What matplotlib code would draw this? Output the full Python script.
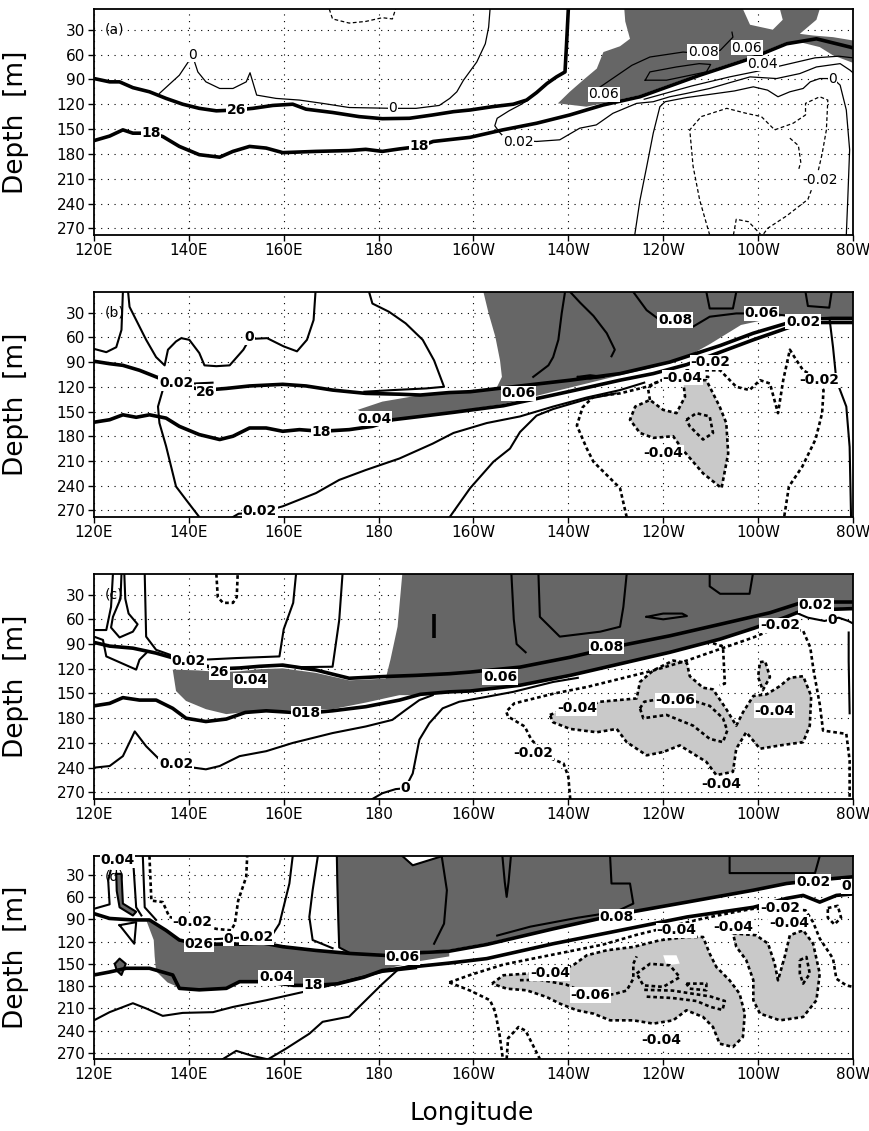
import matplotlib
matplotlib.use("Agg")
import matplotlib.pyplot as plt
from matplotlib.patches import Polygon

# all traced points are (longitude in deg E, depth in m)

# ---------------- panel (a) ----------------
a_iso26 = [(120, 89), (123.3, 93), (125.4, 93), (128.2, 100), (131.7, 105), (135.2, 113), (138.7, 120),
           (142.2, 125), (145.8, 128), (150, 127), (153.5, 125), (157.7, 121.5), (161.9, 120), (164.7, 126),
           (170.3, 130), (175.9, 135), (180.8, 137.5), (186.5, 137), (191.4, 133), (195.8, 129), (199.3, 127),
           (204, 123), (208.4, 120), (211.2, 115), (213.3, 106), (215.5, 95), (217.5, 87), (219.3, 81),
           (219.6, 50), (220, 5)]
a_iso18 = [(120, 164), (123.3, 158.5), (126.1, 151), (128.2, 155), (132, 155), (134.5, 159), (138, 171),
           (142.2, 181), (146.5, 184), (149.3, 177), (152.8, 171), (156.3, 173), (159.8, 178.5), (166.8, 177),
           (173.8, 176), (177.3, 174.5), (180.8, 177), (184.4, 174), (188.7, 171), (191.5, 165), (199.3, 160),
           (206.2, 151), (213.3, 143), (220.3, 133), (227.3, 121), (235.1, 111), (247.7, 85), (258.3, 65),
           (266, 47), (272.3, 41), (279.4, 51), (280, 52)]
a_zero = [(133.8, 107), (138, 85), (140.1, 67), (140.7, 60), (141.9, 81), (143.6, 93), (146.5, 101),
          (149.3, 101), (152.1, 93), (152.9, 82), (154.3, 109), (158.4, 113), (163.3, 115), (168.2, 119),
          (173.8, 124), (183, 125), (187.9, 125), (192.8, 121.5), (195, 113), (196.5, 105), (197.9, 91),
          (200.7, 69), (202.5, 47), (203.2, 27), (203.5, 5)]
a_neg_top = [(169.6, 5), (170.3, 17), (173.8, 22), (177.3, 20), (180.8, 15.5), (182.9, 17), (183.6, 5)]
a_p02 = [(211.5, 115), (209.8, 121), (207.5, 128), (205, 137), (204.5, 146), (205.5, 154), (207, 163),
         (213.3, 165), (218.2, 163), (222.4, 149), (225.9, 145), (229.4, 131), (234.4, 119), (237.9, 117),
         (241.4, 111), (244.9, 107), (249.8, 101), (254, 94), (258.3, 87), (263.9, 89), (268.8, 83),
         (272.3, 75), (277.3, 71), (279.4, 79), (280, 82)]
a_p04 = [(236, 114), (246, 98), (254, 87), (260, 80), (266, 72), (272, 64), (277, 62), (280, 64)]
a_zero_e = [(234, 278), (235.1, 236), (236.5, 196), (237.9, 155), (239.3, 123), (240.4, 117), (244.9, 112),
            (250, 108), (255, 104), (259, 99), (262, 103), (264.2, 111), (266.7, 105), (269.5, 101), (271, 93),
            (273, 89), (275.8, 89), (277.3, 97), (278.6, 127), (279.3, 175), (278.9, 236), (278.6, 278)]
a_m02 = [(249.8, 278), (247.7, 236), (246.3, 195), (245.6, 151), (248, 135), (253.4, 125), (257.5, 131),
         (260.7, 135), (263.5, 151), (267.4, 143), (270, 133), (270, 119), (273, 111), (274.7, 115),
         (274.4, 151), (273.5, 180), (272.5, 205), (271.8, 215), (270.5, 235), (266, 255), (262, 270), (261, 278)]
a_m02_b = [(254.8, 278), (255.4, 259), (258, 262), (260.5, 277)]
a_m02_c = [(266.7, 161), (268.5, 170), (269, 190), (268.5, 200)]
a_p08 = [(226.5, 100), (228.8, 91), (233.4, 73), (237.2, 63), (244.2, 57), (248.4, 59), (252, 55),
         (254.7, 39), (254.5, 33)]
a_p10 = [(236.2, 91), (237.2, 81), (242.8, 75), (247.6, 71), (250, 72), (249.1, 81), (240.7, 91), (236.2, 91)]
a_dark = [(217.8, 119), (220.3, 105), (223.1, 91), (226, 77), (227.4, 57), (230.9, 50), (233, 41), (232, 20),
          (231.8, 5), (256.8, 5), (258.3, 24), (263.1, 30), (265.2, 18), (264.6, 5), (273, 5), (272.3, 18),
          (268.8, 35), (271.6, 37), (275.8, 39), (280, 43), (280, 70), (275.8, 61), (273, 51), (269.5, 46),
          (266, 45), (258.3, 63), (247.7, 83), (235.1, 109), (228.8, 117), (223.8, 123)]
a_labels = [("0", 140.7, 60, False), ("26", 150, 127, True), ("18", 132, 155, True), ("18", 188.5, 171, True),
            ("0", 183, 125, False), ("0.06", 227.5, 108, False), ("0.08", 248.4, 57, False),
            ("0.06", 257.6, 52, False), ("0.04", 261, 71, False), ("0.02", 209.4, 166, False),
            ("0", 275.7, 89, False), ("-0.02", 273, 211.5, False)]

# ---------------- panel (b) ----------------
b_iso26 = [(120, 89), (123.3, 92), (126.1, 94), (129.6, 100), (133.1, 108), (136.6, 116), (139.4, 120),
           (143.6, 124), (147.9, 122), (152.8, 119), (159.8, 117), (164.7, 119), (170.3, 124), (177.3, 128),
           (184.4, 129), (188.8, 130), (194.9, 127), (199.3, 126), (209.8, 119), (220.4, 112), (230.9, 104),
           (241.4, 90), (252, 70), (259, 55), (266, 43), (269.5, 37), (280, 37)]
b_iso18 = [(120, 163), (123.3, 160), (126.1, 154), (128.9, 157), (131.7, 154), (135.2, 158), (138, 168),
           (142.2, 178), (146.5, 184), (149.3, 180), (152.8, 170), (156.3, 170), (159.8, 174), (163.3, 172),
           (167.9, 174), (173.8, 172), (178.7, 168), (183, 160), (188.8, 156), (195.8, 151), (206.3, 143),
           (216.8, 130), (223.9, 121), (230.9, 112), (237.9, 104), (245, 93), (252, 78), (259, 63), (266, 49),
           (269.5, 42), (280, 42)]
b_dark = [(202.1, 5), (280, 5), (280, 37), (274.6, 35), (266, 33), (256.4, 45), (249.9, 68), (244.3, 86),
          (237, 98), (230.9, 106), (223.9, 116), (216.8, 126), (206.3, 141), (195.8, 150), (188.8, 155),
          (183, 159), (178.7, 157), (175.6, 148), (180.8, 138), (187.9, 131), (194.9, 127), (199.5, 125),
          (204.9, 121), (206, 108), (205.6, 88), (204.6, 59), (203.2, 31)]
b_zero_top = [(127.2, 5), (127.5, 23), (128.9, 39), (131, 63), (133.1, 84), (134.9, 94), (135.6, 75),
              (137.3, 65), (138.4, 61), (140.1, 63), (142.2, 79), (143.3, 94), (145.8, 95), (148.6, 94),
              (151.5, 75), (152.8, 62), (156.5, 61), (160, 71), (162.8, 77), (164.9, 63), (166.3, 39), (166.7, 5)]
b_left = [(120, 74), (122.6, 78), (124.7, 72), (125.8, 51), (126.1, 5)]
b_mid = [(178, 5), (178.7, 19), (182.2, 29), (185.7, 43), (189.3, 63), (191.7, 88), (193.8, 120), (190, 122),
         (183, 124), (177, 126)]
b_p02 = [(145, 115), (137.5, 117), (134.5, 124), (133.5, 144), (133.8, 164), (135.2, 192), (137.3, 241),
         (139.4, 257), (142.2, 278)]
b_p02_bot = [(149.3, 278), (150.5, 274), (154.9, 273), (159.8, 265), (166.8, 249), (171.7, 233), (177.3, 221),
             (184.4, 207), (191.4, 189), (195.8, 176), (202.8, 164), (209.8, 156), (216.8, 144), (223.9, 133),
             (230.9, 124), (236, 115)]
b_zero_e = [(195, 278), (199.3, 243), (204.2, 211), (207.7, 195), (209.8, 175), (213.3, 155), (216.8, 147),
            (223.9, 135), (230, 128)]
b_m02 = [(232.3, 278), (230.9, 243), (228.1, 227), (225.3, 211), (223.9, 195), (221.8, 167), (223, 145),
         (225.3, 132), (230.9, 128), (236.5, 120), (241.4, 108), (245, 100), (252, 100), (255.4, 120),
         (258.2, 124), (260.4, 112), (262.5, 116), (264.2, 152), (265.3, 112), (266.7, 75), (268, 87),
         (269.5, 100), (272, 108), (273.8, 124), (273.5, 152), (272.1, 184), (269.3, 217), (266.5, 241),
         (265.5, 278)]
b_light = [(244.2, 112), (249.1, 112), (251.9, 144), (253.3, 164), (253.7, 201), (252.3, 243), (248.4, 225),
           (244.2, 197), (242.1, 180), (237.9, 182), (235.1, 176), (233, 160), (234.1, 144), (237.2, 136),
           (240, 148), (242.8, 152), (244.6, 132)]
b_m04 = [(237.2, 136), (236.8, 122), (238, 116), (241, 109), (245.6, 106), (249.5, 108), (249.1, 112)]
b_m06 = [(244.9, 160), (247, 152), (249.8, 156), (250.5, 176), (248.4, 184), (245.6, 168), (244.9, 160)]
b_edge = [(275.1, 39), (275.8, 72), (276.5, 112), (278.6, 144), (279.3, 193), (279.6, 278)]
b_in1 = [(219.3, 5), (218.6, 31), (217.9, 63), (216.8, 84), (215.8, 94), (212.6, 108)]
b_in2 = [(220.4, 5), (222.5, 18), (225.3, 34), (228.1, 55), (229.8, 75), (229.1, 83)]
b_in3 = [(233.7, 5), (236.5, 27), (239.3, 39), (242.5, 40), (246.3, 47), (249.8, 35), (255.4, 31), (262, 31),
         (268, 35)]
b_in4 = [(222, 108), (224.6, 106), (227.5, 108), (224.6, 110), (222, 108)]
b_in5 = [(249.1, 5), (249.8, 25), (254.7, 25), (255.4, 5)]
b_in6 = [(270, 5), (270.5, 22), (275, 24), (275.5, 5)]
b_labels = [("0", 152.8, 60, True), ("0.02", 137.3, 116, True), ("26", 143.6, 126, True), ("18", 167.9, 175, True),
            ("0.04", 179.1, 159, True), ("0.02", 155, 271, True), ("0.06", 209.5, 128, True),
            ("0.08", 242.5, 39, True), ("0.06", 260.8, 31, True), ("0.02", 269.5, 41, True),
            ("-0.02", 250, 90, True), ("-0.04", 244, 109, True), ("-0.02", 273, 112, True),
            ("-0.04", 240, 200, True)]

# ---------------- panel (c) ----------------
c_iso26 = [(120, 88), (123.3, 92.5), (128.2, 95), (133.1, 101), (138, 109), (142.2, 115), (146.5, 120),
           (150.7, 119), (154.9, 117), (159.8, 115.5), (166.8, 121.5), (173.8, 131.5), (180.8, 129.5),
           (187.9, 128), (194.9, 126), (199.3, 124), (209.8, 118), (220.4, 106), (230.9, 92), (241.4, 80),
           (252, 66), (262.5, 52), (269.5, 39), (280, 39)]
c_iso18 = [(120, 165), (123.3, 162), (126.1, 155), (129.6, 158), (133.1, 158), (136.6, 168), (139.4, 180),
           (143.6, 184), (147.9, 181), (151.9, 173), (156.3, 171), (164.7, 174), (170.3, 171), (177.3, 166),
           (184.4, 158), (188.8, 151), (194.9, 148), (199.3, 147), (209.8, 140), (220.4, 128), (230.9, 114),
           (241.4, 100), (252, 84), (259, 71), (266, 57), (269.5, 49), (280, 47)]
c_dark = [(136.6, 121), (142, 122), (146.5, 124), (150.7, 123), (155, 120.5), (159.8, 119.5), (166.8, 125),
          (173.8, 134), (181.5, 132), (182.5, 109), (184, 69), (185, 5), (280, 5), (280, 45), (269.5, 50),
          (266, 58), (259, 72), (252, 85), (241.4, 101), (230.9, 115), (220.4, 129), (209.8, 141), (199.3, 148),
          (188.8, 152), (184.4, 152), (177.3, 161), (170.3, 169), (159.8, 171), (152.8, 172), (147.9, 175),
          (143.6, 169), (139.4, 159), (137.3, 147)]
c_l1 = [(120, 73), (122.6, 73), (123.6, 45), (124, 5)]
c_l2 = [(125.8, 5), (125.6, 35), (124, 57), (123.6, 70), (125.4, 82), (128.2, 75), (129.2, 66), (127.3, 53),
        (126.6, 35), (126.4, 5)]
c_l3 = [(120, 81), (121.9, 85), (122.6, 105), (128.9, 121), (129.6, 109), (131, 101)]
c_l4 = [(130.7, 5), (131, 81), (133.1, 97), (138, 107)]
c_l5 = [(162.6, 5), (162, 40), (160, 72), (159.1, 105), (150, 107), (143, 109), (138, 112)]
c_l6 = [(172.4, 5), (171.7, 61), (170.3, 117.5), (163.3, 118), (158, 116)]
c_neg_top = [(145.8, 5), (146.1, 33), (147.2, 40), (149.3, 40), (150.1, 33), (150.3, 5)]
c_p02 = [(120, 240), (123.3, 238), (126.1, 226), (128.6, 196), (131, 214), (133.8, 230), (137.3, 237),
         (143.6, 242), (146.5, 238), (150.7, 226), (156.3, 220), (161.9, 210), (170.3, 198), (177.3, 190),
         (182.9, 182), (185.7, 170), (188.6, 158), (191.4, 152)]
c_zero = [(178.7, 278), (180.8, 271), (183.6, 266), (185.6, 265), (187.2, 247), (188.6, 206), (190.7, 186),
          (193.5, 168), (197, 160), (202.8, 154), (208.4, 148), (216.8, 136), (222, 131)]
c_m02 = [(220.4, 278), (220, 251), (219, 235), (216, 228), (212.2, 206), (210.8, 190), (207.3, 178),
         (206.9, 172), (208.6, 162), (217, 150), (224, 142), (231, 132), (238, 122), (245, 110), (252, 96),
         (259, 82), (264, 70), (269.5, 74), (271, 94), (271.7, 122), (273, 163), (273.7, 195), (278.6, 199),
         (279.3, 231), (279.3, 278)]
c_m02_b = [(250.5, 89), (252.6, 93), (253, 138), (251.9, 140)]
c_light = [(216.1, 176), (218.9, 170), (221.8, 170), (226.7, 160), (234.4, 156), (235.1, 136), (237.9, 122),
           (242.1, 110), (245, 113), (245.6, 129), (248.4, 143), (250.5, 145), (253.3, 169), (255.4, 189),
           (256.8, 173), (259, 153), (261.8, 151), (264.6, 141), (266.7, 131), (269.5, 129), (271.2, 153),
           (270.9, 189), (269.5, 209), (264.6, 213), (260.4, 217), (257.5, 197), (255.4, 217), (254.7, 245),
           (251.2, 249), (249.1, 233), (243.5, 213), (240, 221), (236.5, 225), (232.3, 209), (230.2, 193),
           (226, 197), (220.4, 193), (216.8, 185)]
c_light2 = [(260.4, 112), (261.5, 111), (262.5, 130), (261, 146), (260, 130)]
c_m06 = [(235.1, 168), (236, 160), (239, 157), (242.5, 157), (247, 160), (249.8, 165), (252.6, 180),
         (253.5, 195), (252.6, 209), (249.8, 205), (246.3, 189), (240.7, 176), (235.8, 180), (235.1, 168)]
c_edge = [(279.1, 76), (279.1, 111), (279.3, 174)]
c_zero_ne = [(268, 52), (270.5, 58), (274, 62), (277, 58), (279, 62), (280, 65)]
c_in1 = [(208, 5), (208.5, 60), (209.1, 90), (211, 100)]
c_in2 = [(213.7, 5), (214, 57), (218.2, 81), (226.7, 75), (230.9, 69), (231.6, 45), (232.3, 5)]
c_in3 = [(249.8, 5), (249.8, 20), (252, 29), (258.2, 29), (258.9, 5)]
c_in4 = [(236.5, 57), (240, 53), (244, 53), (245, 56), (240, 60), (236.5, 57)]
c_in5 = [(191.7, 53), (191.7, 83)]
c_labels = [("0.02", 140, 111, True), ("26", 146.5, 124, True), ("0.04", 153, 134, True), ("018", 164.7, 174, True),
            ("0.02", 137.3, 236, True), ("0", 185.6, 265, True), ("0.06", 205.6, 130, True),
            ("0.08", 228.1, 93, True), ("0.02", 272.2, 43, True), ("0", 275.6, 61, True),
            ("-0.02", 264.6, 67, True), ("-0.02", 212.6, 222, True), ("-0.04", 221.8, 168, True),
            ("-0.06", 242.5, 158, True), ("-0.04", 263.5, 171, True), ("-0.04", 252.2, 260, True)]

# ---------------- panel (d) ----------------
d_iso26 = [(120, 82.5), (123.3, 89), (128.2, 91), (131.7, 91), (135.2, 105), (138, 118), (142.2, 124),
           (146.5, 123.5), (150.7, 123.5), (155.6, 122), (159.8, 127), (166.8, 132), (173.8, 136), (180.8, 138.5),
           (185, 140), (188.8, 135), (194.9, 133), (202.8, 124), (216.8, 103), (230.9, 83), (245, 67), (259, 51),
           (266, 42), (273, 37), (280, 33)]
d_iso18 = [(120, 165), (123.3, 161), (126.8, 156), (131.7, 156), (136.6, 165), (138, 183), (142.2, 185),
           (147.9, 183), (150.7, 174), (156.3, 174), (162.1, 179), (166.3, 179), (171.3, 177), (176.9, 168),
           (180.8, 159), (188.8, 153), (194.9, 149), (202.8, 143), (216.8, 123), (230.9, 105), (245, 87),
           (259, 74), (266, 62), (269.5, 58), (273, 67), (276.5, 58), (280, 56)]
d_dark_w = [(131, 91), (133, 98), (135.2, 106), (138, 118), (142.2, 125), (150.7, 124.5), (155.6, 123),
            (159.8, 128), (166.8, 133), (173.8, 137), (180.8, 139.5), (188.8, 136), (194.9, 134), (194.9, 140),
            (188, 147), (180.8, 158), (176.9, 167), (171.3, 176), (162.1, 178), (156.3, 173), (150.7, 173),
            (147.9, 182), (142.2, 184), (138, 182), (135.5, 175), (133.1, 160), (132.8, 140), (132.6, 118)]
d_dark_e = [(171.2, 5), (280, 5), (280, 32), (273, 36), (266, 41), (259, 50), (245, 66), (230.9, 82),
            (216.8, 102), (202.8, 122), (194.9, 131), (188.8, 133), (180.8, 137), (173.8, 135), (171.7, 128),
            (171.5, 90), (171.3, 40)]
d_notch = [(185, 5), (187.2, 17.5), (193.5, 5)]
d_finger = [(124.7, 29), (125.8, 29), (126.1, 69), (128.9, 80), (128.2, 85), (125.4, 74), (124.8, 52)]
d_diamond = [(124.4, 150), (125.4, 143), (126.7, 150), (125.8, 165), (124.8, 159)]
d_l1 = [(120, 76), (123.3, 70), (123, 38), (123.5, 25)]
d_l2 = [(128.2, 5), (128.9, 74), (130, 85)]
d_tri = [(125.4, 98), (128.9, 94), (128.5, 123), (125.4, 98)]
d_l3 = [(130.3, 5), (130.7, 74), (133.1, 91)]
d_m02_w = [(131.7, 5), (132.1, 65), (134.5, 67), (135.9, 87), (140.8, 94), (145.8, 103), (148.9, 105),
           (149.7, 96), (150.4, 65), (152.1, 33), (152.3, 5)]
d_l4 = [(161.9, 5), (161.2, 42), (159.1, 96), (157.3, 114), (152.8, 114), (147.9, 116), (142, 118)]
d_l5 = [(167.2, 5), (166.1, 51), (165.4, 87), (166.1, 118), (170.3, 129)]
d_l6 = [(171.2, 5), (171.3, 40), (171.5, 90), (171.7, 128), (173.8, 135)]
d_p02 = [(120, 226), (123.3, 215), (128.2, 203), (131, 210), (134.5, 220), (138.7, 216), (145.1, 215),
         (149.3, 208), (156.3, 199), (162.6, 190), (166.8, 184), (173.8, 172), (180.8, 161), (187.9, 156)]
d_zero1 = [(147.2, 278), (150, 267), (153.5, 274), (156.3, 278)]
d_zero2 = [(156.8, 278), (160.5, 264), (165.4, 244), (168.2, 228), (173.8, 221), (177.3, 199), (180.8, 177),
           (184.4, 156), (187, 152)]
d_in1 = [(193.3, 5), (194.4, 51), (193.8, 96), (191.7, 123)]
d_in2 = [(206.1, 5), (206.6, 40), (207, 60), (207.4, 40), (207.9, 5)]
d_in3 = [(228.8, 5), (229.1, 42), (233, 42), (233.7, 69), (230, 80), (222, 88), (212, 100), (205, 112)]
d_in4 = [(254, 5), (254, 28), (272, 28), (273, 5)]
d_m02_e = [(194.9, 175), (199.3, 165), (206.3, 151), (213.3, 142), (220.4, 133), (227.4, 124), (234.4, 111),
           (241.4, 100), (248.4, 89), (255.4, 80), (259, 76), (264.6, 76), (270, 78), (271.6, 94), (273, 116),
           (275.8, 143), (276.5, 170), (278.6, 179), (280, 181)]
d_m02_low = [(194.9, 175), (199.3, 186), (203.5, 199), (204.6, 215), (205.5, 245), (206.2, 278)]
d_arch = [(207, 278), (207.3, 250), (209.5, 235), (211, 240), (214, 278)]
d_oval = [(274.7, 75), (276.8, 72), (277.5, 88), (276.1, 97), (274.7, 88), (274.7, 75)]
d_light1 = [(203.9, 176.6), (206.3, 165.4), (211.2, 163.2), (216.8, 161), (221, 152), (223.9, 138.5),
            (228.1, 131.8), (233.7, 127.3), (239.3, 118.3), (244.9, 113.9), (248.4, 113.9), (249.8, 136.3),
            (251.2, 154.2), (254, 172.2), (256.1, 190.1), (257.2, 217), (256.8, 248.4), (254.7, 261.8),
            (251.9, 257.4), (250.5, 235), (248.4, 221.5), (244.9, 212.5), (242.1, 226), (237.9, 230.4),
            (233.7, 226), (228.8, 226), (225.3, 217), (221.8, 212.5), (218.2, 203.5), (215.4, 194.6),
            (211.2, 185.6), (207, 183.4)]
d_light2 = [(254.7, 109), (259.6, 111.6), (262.1, 122.8), (263.5, 149.7), (264.2, 172.2), (265.6, 140.8),
            (266.7, 111.6), (269.5, 104.9), (271.6, 122.8), (273, 163.2), (272.3, 199), (269.5, 221.5),
            (264.6, 226), (260.4, 217), (259, 199), (259, 172), (257.5, 145), (255.4, 127)]
d_hole = [(240, 138.5), (242.8, 138.5), (243.5, 149.7), (240.7, 152)]
d_m06a = [(209.8, 172), (214, 171.5), (219.6, 178), (224.6, 192), (229.5, 191), (232.3, 186), (233.7, 170),
          (233.7, 150), (234.4, 140)]
d_m06b = [(234.4, 163), (237.2, 150), (241.4, 152), (243.5, 168), (240, 181), (235.8, 179), (234.4, 163)]
d_m06c = [(236, 185), (242, 186), (246, 190), (250, 194), (253, 200), (252.5, 212), (250, 208), (247, 200),
          (242, 196), (236, 194)]
d_m06d = [(244.9, 176.6), (249.1, 176.6), (249.1, 185.6), (245.6, 183.4), (244.9, 176.6)]
d_m06e = [(268.8, 145), (270.2, 140.8), (270.9, 163.2), (269.5, 176.6), (268.8, 163.2), (268.8, 145)]
d_labels = [("0.04", 125, 11, True), ("-0.02", 140.8, 94, True), ("0", 148.3, 116, True), ("0.02", 154.3, 114, True),
            ("026", 142.2, 124, True), ("0.04", 158.4, 168, True), ("18", 166.3, 179, True),
            ("0.06", 185, 141, True), ("0.08", 230.2, 87, True), ("0.02", 271.6, 40, True), ("0", 278.6, 46, True),
            ("-0.02", 264.6, 75, True), ("-0.04", 216.1, 163, True), ("-0.06", 224.6, 192, True),
            ("-0.04", 239.6, 252, True), ("-0.04", 242.8, 105, True), ("-0.04", 254.7, 100, True),
            ("-0.04", 266.5, 95, True)]

depth_ticks = [30, 60, 90, 120, 150, 180, 210, 240, 270]
lon_ticks = [120, 140, 160, 180, 200, 220, 240, 260, 280]
lon_labels = ["120E", "140E", "160E", "180", "160W", "140W", "120W", "100W", "80W"]
panel_tags = ["(a)", "(b)", "(c)", "(d)"]
tag_depth = [30, 30, 30, 33]

DARK = "#666666"
LIGHT = "#c9c9c9"
TICKFONT = ["Liberation Sans Narrow", "DejaVu Sans"]


def draw(ax, pts, kind, thin_lw=1.5):
    x = [p[0] for p in pts]
    y = [p[1] for p in pts]
    if kind == "thick":
        ax.plot(x, y, color="k", lw=2.6, solid_joinstyle="round", solid_capstyle="butt", zorder=3)
    elif kind == "thin":
        ax.plot(x, y, color="k", lw=thin_lw, solid_joinstyle="round", zorder=2)
    elif kind == "dash_a":
        ax.plot(x, y, color="k", lw=0.9, dashes=(3, 2), zorder=2)
    else:
        ax.plot(x, y, color="k", lw=1.9, dashes=(1.4, 1.1), zorder=2)


def shade(ax, pts, color, z=1):
    ax.add_patch(Polygon(pts, closed=True, facecolor=color, edgecolor="none", zorder=z))


def labels(ax, items):
    for s, x, y, bold in items:
        ax.text(x, y, s, ha="center", va="center", fontsize=10, fontweight="bold" if bold else "normal",
                bbox=dict(facecolor="white", edgecolor="none", pad=0.4), zorder=5)


fig = plt.figure(figsize=(8.7, 11.31), dpi=100)
boxes = [(0.1080, 0.79222, 0.8724, 0.19982),
         (0.1080, 0.54288, 0.8724, 0.19894),
         (0.1080, 0.29355, 0.8724, 0.19894),
         (0.1080, 0.06366, 0.8724, 0.17949)]
axes = [fig.add_axes(b) for b in boxes]

for i, ax in enumerate(axes):
    ax.set_xlim(120, 280)
    ax.set_ylim(278, 5)
    ax.set_xticks(lon_ticks)
    ax.set_xticklabels(lon_labels, family=TICKFONT, fontsize=11)
    ax.set_yticks(depth_ticks)
    ax.set_yticklabels([str(t) for t in depth_ticks], family=TICKFONT, fontsize=11)
    ax.tick_params(length=4, width=1, direction="out", pad=2)
    ax.set_axisbelow(True)
    ax.grid(True, color="k", linestyle=(0, (1, 5)), linewidth=0.8)
    for s in ax.spines.values():
        s.set_linewidth(1.3)
    ax.set_ylabel("Depth  [m]", fontsize=19, family="DejaVu Sans", color="k")
    ax.yaxis.set_label_coords(-0.085, 0.5)
    ax.text(122.3, tag_depth[i], panel_tags[i], fontsize=10, va="center", ha="left", zorder=1)

# (a)
ax = axes[0]
shade(ax, a_dark, DARK)
for ln in [a_zero, a_p02, a_p04, a_zero_e, a_p08, a_p10]:
    draw(ax, ln, "thin", 0.9)
for ln in [a_neg_top, a_m02, a_m02_b, a_m02_c]:
    draw(ax, ln, "dash_a")
draw(ax, a_iso26, "thick")
draw(ax, a_iso18, "thick")
labels(ax, a_labels)

# (b)
ax = axes[1]
shade(ax, b_dark, DARK)
shade(ax, b_light, LIGHT)
for ln in [b_zero_top, b_left, b_mid, b_p02, b_p02_bot, b_zero_e, b_edge, b_in1, b_in2, b_in3, b_in4, b_in5, b_in6]:
    draw(ax, ln, "thin")
for ln in [b_m02, b_m04, b_m06, b_light + b_light[:1]]:
    draw(ax, ln, "dash")
draw(ax, b_iso26, "thick")
draw(ax, b_iso18, "thick")
labels(ax, b_labels)

# (c)
ax = axes[2]
shade(ax, c_dark, DARK)
shade(ax, c_light, LIGHT)
shade(ax, c_light2, LIGHT)
for ln in [c_l1, c_l2, c_l3, c_l4, c_l5, c_l6, c_p02, c_zero, c_edge, c_zero_ne, c_in1, c_in2, c_in3, c_in4]:
    draw(ax, ln, "thin")
draw(ax, c_in5, "thick")
for ln in [c_neg_top, c_m02, c_m02_b, c_m06, c_light + c_light[:1], c_light2 + c_light2[:1]]:
    draw(ax, ln, "dash")
draw(ax, c_iso26, "thick")
draw(ax, c_iso18, "thick")
labels(ax, c_labels)

# (d)
ax = axes[3]
shade(ax, d_dark_e, DARK)
shade(ax, d_dark_w, DARK)
shade(ax, d_notch, "white", 1.2)
shade(ax, d_finger, DARK)
shade(ax, d_diamond, DARK)
shade(ax, d_light1, LIGHT)
shade(ax, d_light2, LIGHT)
shade(ax, d_hole, "white", 1.2)
for ln in [d_l1, d_l2, d_tri, d_l3, d_l4, d_l5, d_l6, d_p02, d_zero1, d_zero2, d_in1, d_in2, d_in3, d_in4,
           d_notch, d_finger + d_finger[:1], d_diamond + d_diamond[:1]]:
    draw(ax, ln, "thin")
for ln in [d_m02_w, d_m02_e, d_m02_low, d_arch, d_oval, d_m06a, d_m06b, d_m06c, d_m06d, d_m06e,
           d_light1 + d_light1[:1], d_light2 + d_light2[:1]]:
    draw(ax, ln, "dash")
draw(ax, d_iso26, "thick")
draw(ax, d_iso18, "thick")
labels(ax, d_labels)

fig.text(0.5425, 0.016, "Longitude", ha="center", va="center", fontsize=18, family="DejaVu Sans")

fig.savefig("out.png", dpi=100)
